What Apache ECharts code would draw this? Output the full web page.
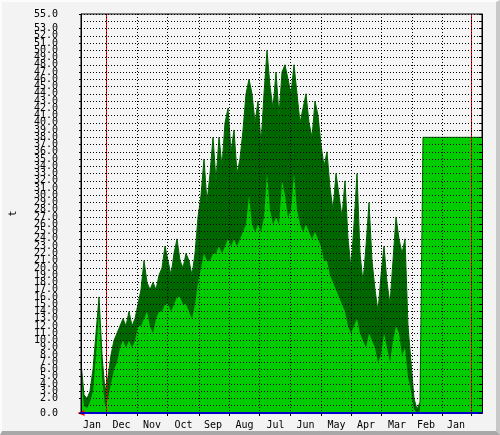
<!DOCTYPE html>
<html>
<head>
<meta charset="utf-8">
<script src="https://cdn.jsdelivr.net/npm/echarts@6/dist/echarts.min.js"></script>
<style>
  body { margin: 0; background: #f3f3f3; }
  #wrap { position: relative; width: 500px; height: 435px; }
  #chart { width: 500px; height: 435px; }
  #frame {
    position: absolute; left: 0; top: 0; width: 500px; height: 435px;
    box-sizing: border-box; pointer-events: none;
    border-left: 2px solid #fcfcfc; border-top: 2px solid #fcfcfc;
    border-right: 4px solid #c8c8c8; border-bottom: 4px solid #a8a8a8;
  }
</style>
</head>
<body>
<div id="wrap">
  <div id="chart"></div>
  <div id="frame"></div>
</div>
<script>
// sample spacing along x (pixels / days)
const STEP = 3;
// upper envelope (dark green), one value every STEP from the left edge
const maxVals = [7, 2.5, 2, 3, 6, 11, 16, 8, 3, 5, 8, 10, 11, 12, 13, 12, 14, 12, 13, 15,
  17, 21, 18, 17, 18, 17, 19, 20, 23, 21, 19, 22, 24, 21, 20, 22, 21, 19, 22, 27,
  30, 35, 29, 33, 38, 32, 38, 34, 40, 42, 36, 39, 33, 35, 39, 44, 46, 44, 40, 43,
  37, 44, 50, 45, 42, 47, 41, 47, 48, 46, 44, 48, 44, 40, 42, 44, 40, 38, 43, 41,
  37, 34, 36, 31, 28, 33, 30, 27, 32, 24, 20, 26, 33, 22, 18, 23, 29, 21, 17, 14,
  19, 23, 18, 15, 21, 27, 24, 22, 24, 12, 7, 2, 0.5, 1.5, 38, 38];
// lower envelope (light green)
const minVals = [5, 1, 0.7, 1.5, 3, 8, 14, 5, 1, 2, 4, 6, 7, 9, 10, 9, 10, 9, 10, 12,
  12, 13, 14, 12, 11, 13, 14, 14, 15, 15, 14, 15, 16, 16, 15, 15, 14, 13, 15, 18,
  20, 22, 21, 21, 22, 22, 23, 22, 23, 24, 23, 24, 23, 24, 25, 26, 30, 26, 25, 26,
  25, 27, 33, 28, 26, 27, 26, 32, 30, 27, 28, 33, 28, 26, 25, 26, 25, 24, 25, 24,
  23, 21, 21, 19, 18, 17, 16, 15, 14, 12, 11, 12, 13, 11, 10, 9, 11, 10, 9, 7,
  8, 11, 9, 7, 10, 12, 11, 8, 9, 5, 3, 0.5, 0, 0.3, 38, 38];
const lastX = 401;
// month boundaries and label centres (days from left edge)
const monthEdges = [25, 56, 86, 118, 148, 178, 209, 240, 270, 300, 331, 361, 390];
const labelPos = [11, 40.5, 71, 102.5, 132, 163.5, 194.5, 224.5, 255.5, 285, 316, 345, 375];
const monthNames = ['Jan', 'Dec', 'Nov', 'Oct', 'Sep', 'Aug', 'Jul', 'Jun', 'May', 'Apr', 'Mar', 'Feb', 'Jan'];
const redLines = [25, 390];

function toPairs(vals) {
  const out = vals.map((v, i) => [Math.min(i * STEP, lastX), v]);
  out.push([lastX, vals[vals.length - 1]]);
  return out;
}

const chart = echarts.init(document.getElementById('chart'));
const font = 'DejaVu Sans Mono';
chart.setOption({
  animation: false,
  backgroundColor: '#f3f3f3',
  grid: {
    left: 81, right: 18, top: 14, bottom: 22,
    show: true, backgroundColor: '#f5f5f5', borderColor: '#000', borderWidth: 1
  },
  xAxis: {
    type: 'value', min: 0, max: lastX, z: 10,
    axisLine: { lineStyle: { color: '#0000cc', width: 2 } },
    axisTick: { customValues: monthEdges, length: 3, lineStyle: { color: '#000' } },
    axisLabel: {
      customValues: labelPos, margin: 7, color: '#000', fontFamily: font, fontSize: 10,
      formatter: v => monthNames[labelPos.indexOf(v)] || ''
    },
    splitLine: { show: true, lineStyle: { color: '#000', type: [1, 2], width: 1 } }
  },
  yAxis: [{
    type: 'value', min: 0, max: 55, interval: 1, z: 10,
    name: 't', nameLocation: 'middle', nameGap: 63, nameRotate: 90,
    nameTextStyle: { fontFamily: font, fontSize: 10, color: '#000' },
    axisLine: { show: true, lineStyle: { color: '#000' } },
    axisTick: { show: true, length: 2, lineStyle: { color: '#000' } },
    axisLabel: {
      margin: 23, color: '#000', fontFamily: font, fontSize: 10,
      hideOverlap: false, interval: 0, showMinLabel: true, showMaxLabel: true,
      formatter: v => v.toFixed(1)
    },
    splitLine: { show: true, lineStyle: { color: '#000', type: [1, 2], width: 1 } }
  }, {
    type: 'value', min: 0, max: 55, interval: 1, position: 'right', z: 10,
    axisLine: { show: true, lineStyle: { color: '#000' } },
    axisTick: { show: true, inside: true, length: 3, lineStyle: { color: '#000' } },
    axisLabel: { show: false }, splitLine: { show: false }
  }],
  series: [
    {
      type: 'line', data: toPairs(maxVals), symbol: 'none',
      lineStyle: { color: '#006600', width: 1 },
      areaStyle: { color: '#006600', opacity: 1 }
    },
    {
      type: 'line', data: toPairs(minVals), symbol: 'none',
      lineStyle: { width: 0 },
      areaStyle: { color: '#00cc00', opacity: 1 },
      markLine: {
        silent: true, symbol: 'none', label: { show: false },
        lineStyle: { color: '#ff0000', type: 'solid', width: 1 },
        data: redLines.map(x => ({ xAxis: x }))
      },
      markPoint: {
        silent: true, symbol: 'triangle', symbolSize: [6, 7], symbolRotate: 90,
        itemStyle: { color: '#ff0000' }, label: { show: false },
        data: [{ coord: [0, 0] }]
      }
    }
  ]
});
</script>
</body>
</html>
